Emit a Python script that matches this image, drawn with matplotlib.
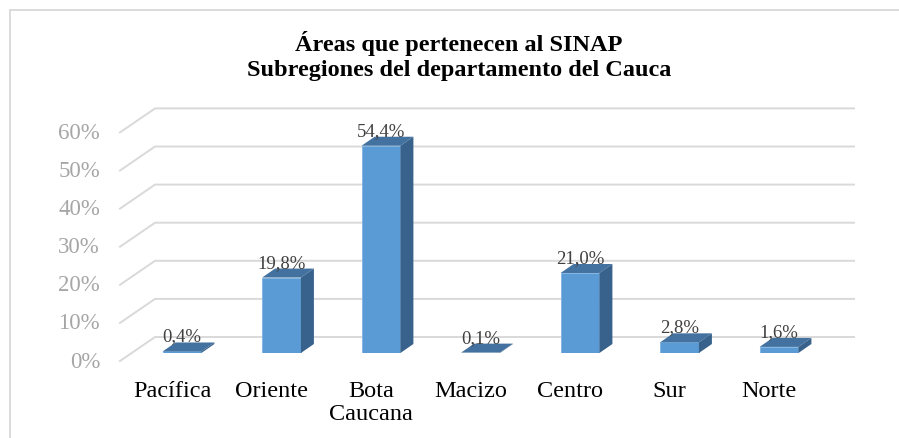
import matplotlib.pyplot as plt
from matplotlib.patches import Polygon, Rectangle

plt.rcParams['font.family'] = ['Liberation Serif', 'DejaVu Serif']

categorias = ['Pacífica', 'Oriente', 'Bota\nCaucana', 'Macizo', 'Centro', 'Sur', 'Norte']
valores = [0.4, 19.8, 54.4, 0.1, 21.0, 2.8, 1.6]
ticks_y = [0, 10, 20, 30, 40, 50, 60]
titulo1 = 'Áreas que pertenecen al SINAP'
titulo2 = 'Subregiones del departamento del Cauca'

c_frente = '#5B9BD5'
c_techo = '#4372A0'
c_lado = '#38628B'
c_grid = '#D9D9D9'

fig = plt.figure(figsize=(8.99, 4.39), dpi=100)
# recuadro del grafico
fig.patches.append(Rectangle((10/899, -0.05), 1.2, 1 - 11/439 + 0.05, transform=fig.transFigure,
                             fill=False, edgecolor='#D9D9D9', lw=1.3))

ax = fig.add_axes([132.25/899, 85/439, 696.5/899, 228.6/439])
ax.set_xlim(-0.5, 6.5)
ax.set_ylim(0, 60)
ax.axis('off')

# profundidad 3D en unidades de datos
dx = 13/99.5
dy = 9/3.81
ancho = 0.39

# rejilla en perspectiva
for t in ticks_y:
    ax.plot([-0.623, -0.271, 6.754], [t - 2.1, t + 4.2, t + 4.2], color=c_grid, lw=1.4,
            clip_on=False, zorder=0)
    ax.text(-0.824, t - 2.1, f'{t}%', ha='right', va='center', fontsize=16.5, color='#A6A6A6')

x = list(range(len(valores)))
ax.bar(x, valores, width=ancho, color=c_frente, edgecolor='#7FB2E0', lw=0.6, zorder=2)
for i, v in zip(x, valores):
    l, r = i - ancho/2, i + ancho/2
    ax.add_patch(Polygon([(l, v), (r, v), (r + dx, v + dy), (l + dx, v + dy)],
                         closed=True, facecolor=c_techo, edgecolor='none', zorder=3, clip_on=False))
    ax.add_patch(Polygon([(r, 0), (r + dx, dy), (r + dx, v + dy), (r, v)],
                         closed=True, facecolor=c_lado, edgecolor='none', zorder=3, clip_on=False))
    ax.text(i, v + dy + 0.5, f'{v:.1f}%'.replace('.', ','), ha='center', va='baseline',
            fontsize=13.5, color='#404040', zorder=4, clip_on=False)

for i, c in zip(x, categorias):
    ax.text(i - 0.1, -7.0, c, ha='center', va='top', fontsize=17.5, color='black',
            linespacing=1.15, clip_on=False)

fig.text(459/899, 1 - 51/439, titulo1, ha='center', va='baseline', fontsize=17.5,
         fontweight='bold')
fig.text(459/899, 1 - 76/439, titulo2, ha='center', va='baseline', fontsize=17.5,
         fontweight='bold')

fig.savefig('out.png', dpi=100)
